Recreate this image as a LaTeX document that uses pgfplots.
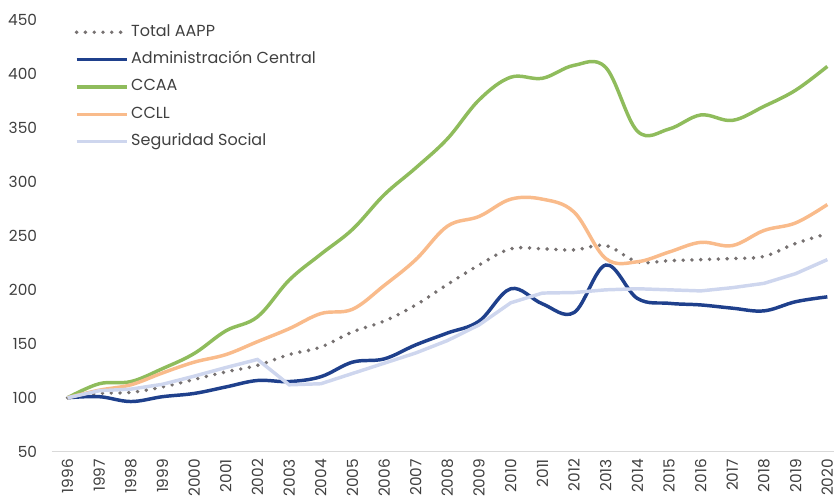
\documentclass[border=0pt]{standalone}
\usepackage{fontspec}
\setmainfont{Poppins}
\usepackage{pgfplots}
\pgfplotsset{compat=1.18}
\definecolor{ctot}{HTML}{767171}
\definecolor{cadm}{HTML}{1F408C}
\definecolor{cccaa}{HTML}{8FBC5C}
\definecolor{cccll}{HTML}{F9BB8B}
\definecolor{css}{HTML}{CED6EE}
\definecolor{axgray}{HTML}{D9D9D9}
\definecolor{txt}{HTML}{404040}
\begin{document}
\begin{tikzpicture}
\begin{axis}[
  at={(0pt,0pt)}, anchor=south west,
  scale only axis, width=586.7pt, height=323.8pt,
  xmin=1995.5, xmax=2020.21, ymin=50, ymax=450,
  xtick={1996,...,2020}, ytick={50,100,...,450},
  axis x line*=bottom, axis y line*=left,
  axis line style={-},
  x axis line style={draw=axgray, line width=0.8pt},
  y axis line style={draw=none},
  major tick length=0pt, tick style={draw=none},
  ticklabel style={font=\fontsize{11.5}{13}\selectfont, text=txt},
  /pgf/number format/assume math mode=true,
  /pgf/number format/1000 sep={},
  xticklabel style={rotate=90, anchor=east, yshift=0pt, xshift=-2pt},
  yticklabel style={xshift=-7.5pt},
  legend cell align=left,
  legend style={at={(axis description cs:0,1)}, anchor=north west,
    xshift=17pt, yshift=-1.5pt, draw=none, fill=none, inner sep=0pt,
    font=\fontsize{12}{14}\selectfont, text=txt, row sep=5.5pt,
    nodes={inner sep=2pt, text height=8.5pt, text depth=2.5pt}},
  legend image code/.code={\draw[#1] (0pt,0pt) -- (37.5pt,0pt);},
  every axis plot/.append style={line width=2.6pt},
]
\addplot[ctot, line width=2.9pt, line cap=round, dash pattern=on 0pt off 6.6pt, smooth, tension=0.6] coordinates {
(1996,100)(1997,104)(1998,105)(1999,110)(2000,117)(2001,124)(2002,130)(2003,140)(2004,147)(2005,161)(2006,171)(2007,186)(2008,205)(2009,223)(2010,238)(2011,238)(2012,237)(2013,241)(2014,226)(2015,227)(2016,228)(2017,229)(2018,231)(2019,243)(2020,252)};
\addlegendentry{Total AAPP}
\addplot[cadm, smooth, tension=0.6] coordinates {
(1996,100)(1997,101)(1998,96.5)(1999,101)(2000,104)(2001,110)(2002,116)(2003,115)(2004,119.5)(2005,133)(2006,136)(2007,149)(2008,160)(2009,171)(2010,201)(2011,187)(2012,179)(2013,223)(2014,192)(2015,187.5)(2016,186)(2017,183)(2018,180.5)(2019,189)(2020,193.5)};
\addlegendentry{Administración Central}
\addplot[cccaa, smooth, tension=0.6] coordinates {
(1996,100)(1997,113)(1998,115)(1999,127)(2000,141)(2001,162)(2002,175)(2003,209)(2004,233)(2005,256)(2006,288)(2007,313)(2008,340)(2009,376)(2010,397)(2011,396)(2012,408)(2013,406)(2014,347)(2015,349)(2016,362)(2017,357)(2018,370)(2019,385)(2020,407)};
\addlegendentry{CCAA}
\addplot[cccll, smooth, tension=0.6] coordinates {
(1996,100)(1997,107)(1998,112)(1999,123)(2000,133)(2001,140)(2002,152)(2003,164)(2004,178)(2005,182)(2006,204)(2007,228)(2008,259)(2009,268)(2010,284)(2011,284)(2012,272)(2013,229)(2014,226)(2015,235)(2016,244)(2017,241)(2018,255)(2019,262)(2020,279)};
\addlegendentry{CCLL}
\addplot[css] coordinates {
(1996,100)(1997,106.5)(1998,108)(1999,112.5)(2000,120)(2001,128)(2002,135.5)(2003,112)(2004,113)(2005,122.5)(2006,132)(2007,141.5)(2008,153)(2009,167.5)(2010,188)(2011,197)(2012,197.5)(2013,200)(2014,201)(2015,200)(2016,199)(2017,202)(2018,206)(2019,215)(2020,228)};
\addlegendentry{Seguridad Social}
\end{axis}
\pgfresetboundingbox
\path (-38.8pt,-34.7pt) rectangle (586.7pt,338.8pt);
\end{tikzpicture}
\end{document}
